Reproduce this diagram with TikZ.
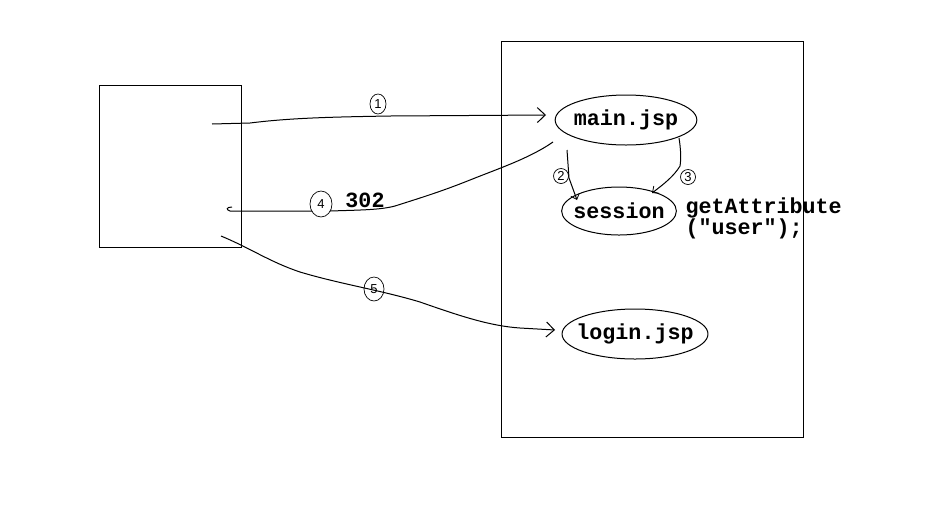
\documentclass[tikz,border=0pt]{standalone}
\usepackage{fontspec}
\setmonofont{Liberation Mono}
\setsansfont{Liberation Sans}
\usetikzlibrary{shapes.geometric,arrows.meta}
\begin{document}
\begin{tikzpicture}[x=1pt,y=-1pt,line width=1pt,
  page/.style={draw, ellipse, inner ysep=0pt, font=\ttfamily\bfseries\fontsize{21.7}{21.7}\selectfont},
  num/.style={draw, ellipse, inner sep=0, line width=0.7pt, font=\sffamily\fontsize{13}{13}\selectfont},
  flow/.style={-{Straight Barb[length=8pt,width=15pt,line width=1pt]}},
  small/.style={-{Straight Barb[length=5pt,width=9pt,line width=0.8pt]}},
  lbl/.style={font=\ttfamily\bfseries\fontsize{21.7}{19}\selectfont, inner sep=0}]
\useasboundingbox (0,0) rectangle (933,531);

% browser and server boxes
\node[draw, inner sep=0, minimum width=142pt, minimum height=162pt] (client) at (170,166) {};
\node[draw, inner sep=0, minimum width=302pt, minimum height=396pt] (server) at (652,239) {};

% pages and session
\node[page, inner xsep=-2pt, minimum height=50pt] (main) at (626,120) {main.jsp};
\node[page, inner xsep=-5pt, minimum height=48pt] (session) at (619,211) {session};
\node[page, inner xsep=-7pt, minimum height=50pt] (login) at (635,334) {login.jsp};
\node[lbl, anchor=north west, align=left] (getattr) at (685,197) {getAttribute\\("user");};

% connector end points
\coordinate (req1) at (212,124);
\coordinate (ret4) at (240,211);
\coordinate (req5) at (221,236);
\coordinate (m2) at (567,150);
\coordinate (m3) at (679,138);

% 1: request to main.jsp
\draw[flow] (req1) -- (250,123) .. controls (290,118) and (330,117) .. (390,116) -- (546,115);
\node[num, minimum width=16pt, minimum height=20pt] (n1) at (378,104) {1};

% 2 and 3: main.jsp consults the session
\draw[small] (m2) -- (569,178) -- (577,200);
\node[num, minimum width=15pt, minimum height=15pt] (n2) at (561,176) {2};
\draw[small] (m3) .. controls (681,150) and (681,160) .. (680,166) .. controls (674,176) and (664,184) .. (652,193);
\node[num, minimum width=15pt, minimum height=15pt] (n3) at (688,177) {3};

% 4: 302 redirect back to the browser
\draw (553,142) .. controls (530,158) and (500,168) .. (470,180)
      .. controls (440,192) and (420,198) .. (395,206)
      .. controls (380,210) and (360,210) .. (330,211) -- (ret4) -- (230,211)
      .. controls (226,210) and (226,207) .. (232,207);
\node[num, minimum width=22pt, minimum height=26pt, fill=white] (n4) at (321,204) {4};
\node[font=\ttfamily\bfseries\fontsize{21.7}{21.7}\selectfont, inner sep=0] (code) at (365,200) {302};

% 5: browser goes on to login.jsp
\draw[flow] (req5) .. controls (250,248) and (270,262) .. (300,272)
      .. controls (340,284) and (380,290) .. (420,302)
      .. controls (460,316) and (490,326) .. (520,328) -- (555,330);
\node[num, minimum width=20pt, minimum height=24pt] (n5) at (374,289) {5};
\end{tikzpicture}
\end{document}
